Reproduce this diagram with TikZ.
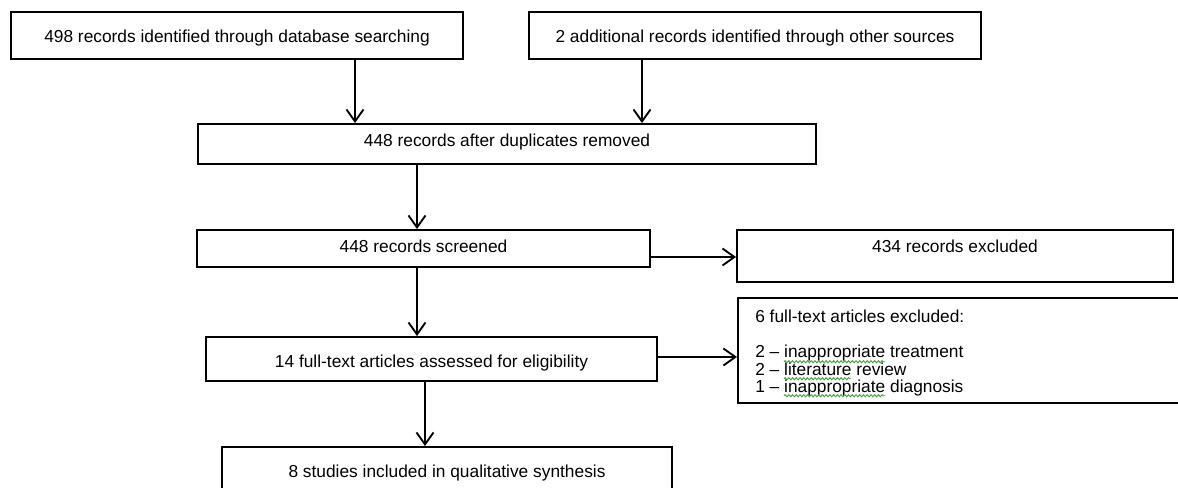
\documentclass[tikz,border=0pt]{standalone}
\usepackage{fontspec}
\setmainfont{Liberation Sans}
\usetikzlibrary{arrows.meta,decorations.pathmorphing}
\definecolor{wavegreen}{RGB}{70,160,70}
\newcommand\gfont{\fontsize{13}{15.6}\selectfont}
\newlength\wpre
\newlength\winap
\newlength\wlit
\begin{document}
\settowidth\wpre{\gfont 2 – }%
\settowidth\winap{\gfont inappropriate}%
\settowidth\wlit{\gfont literature}%
\begin{tikzpicture}[x=0.75pt,y=-0.75pt,
  box/.style={draw=black, line width=1.4pt, inner sep=0pt, anchor=base, font=\gfont},
  gbox/.style={draw=black, line width=1.4pt, anchor=north west, inner sep=0pt,
    minimum width=352.5pt, minimum height=78.75pt},
  gline/.style={inner sep=0pt, anchor=base west, font=\gfont},
  wave/.style={draw=wavegreen, line width=0.7pt, decorate,
    decoration={snake, amplitude=0.8pt, segment length=2.8pt}},
  arr/.style={line width=1.4pt, -{Straight Barb[length=9pt,width=12.75pt]}}]
\useasboundingbox[fill=white] (0,0) rectangle (1178,488);
% boxes
\node[box, minimum width=339pt, text height=23.25pt, text depth=12pt] (A) at (237,43)
  {498 records identified through database searching};
\node[box, minimum width=339pt, text height=23.25pt, text depth=12pt] (B) at (755,43)
  {2 additional records identified through other sources};
\node[box, minimum width=463.5pt, text height=17.25pt, text depth=12.75pt] (C) at (507,147)
  {448 records after duplicates removed};
\node[box, minimum width=339.75pt, text height=17.25pt, text depth=10.5pt] (D) at (423.5,253)
  {448 records screened};
\node[box, minimum width=327pt, text height=17.25pt, text depth=21.75pt] (E) at (955,253)
  {434 records excluded\hspace{28.5pt}};
\node[box, minimum width=338.25pt, text height=22.5pt, text depth=10.5pt] (F) at (431.5,367)
  {14 full-text articles assessed for eligibility};
\node[gbox] (G) at (737,297) {};
\node[gline] (g1) at (755,323) {6 full-text articles excluded:};
\node[gline] (g2) at (755,358) {2 – inappropriate treatment};
\node[gline] (g3) at (755,375) {2 – literature review};
\node[gline] (g4) at (755,392) {1 – inappropriate diagnosis};
\draw[wave] ([xshift=\wpre, yshift=-2.8pt]g2.base west) -- ++(\winap,0);
\draw[wave] ([xshift=\wpre, yshift=-2.8pt]g3.base west) -- ++(\wlit,0);
\draw[wave] ([xshift=\wpre, yshift=-2.8pt]g4.base west) -- ++(\winap,0);
\node[box, minimum width=337.5pt, text height=22.5pt, text depth=22.5pt] (H) at (447,477)
  {8 studies included in qualitative synthesis};
% connector guides
\coordinate (xa) at (355,0);
\coordinate (xb) at (642,0);
\coordinate (xc) at (417,0);
\coordinate (xf) at (425,0);
\coordinate (yd) at (0,257);
\coordinate (yf) at (0,357);
% connectors
\draw[arr] (A.south -| xa) -- (C.north -| xa);
\draw[arr] (B.south -| xb) -- (C.north -| xb);
\draw[arr] (C.south -| xc) -- (D.north -| xc);
\draw[arr] (D.south -| xc) -- (F.north -| xc);
\draw[arr] (F.south -| xf) -- (H.north -| xf);
\draw[arr] (D.east |- yd) -- (E.west |- yd);
\draw[arr] (F.east |- yf) -- (G.west |- yf);
\end{tikzpicture}
\end{document}
